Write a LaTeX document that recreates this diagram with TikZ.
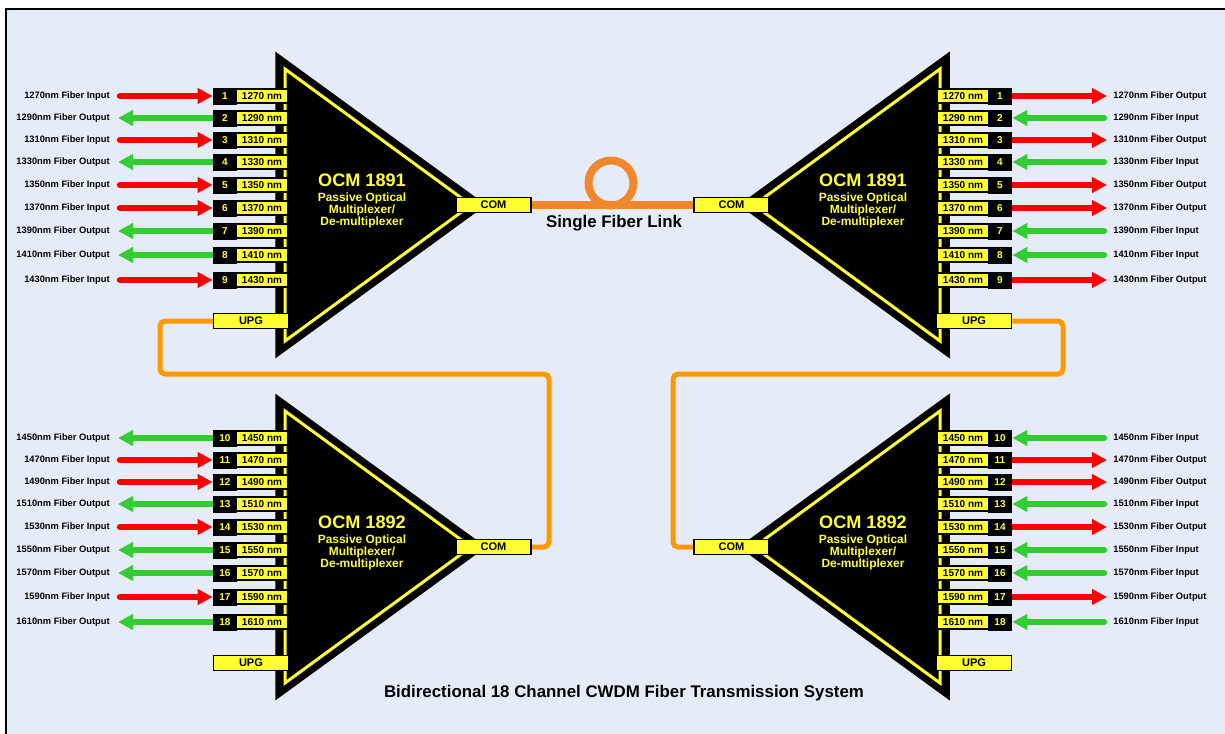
\documentclass[tikz,border=0pt]{standalone}
\usepackage{fontspec}
\setmainfont{Liberation Sans}
\usetikzlibrary{positioning,arrows.meta,calc}
\pgfdeclarelayer{back}
\pgfdeclarelayer{wires}
\pgfsetlayers{back,wires,main}
\definecolor{panelbg}{RGB}{230,236,247}
\definecolor{portyellow}{RGB}{255,255,51}
\definecolor{fiberorange}{RGB}{242,136,46}
\definecolor{upgorange}{RGB}{255,153,0}
\definecolor{inred}{RGB}{255,0,0}
\definecolor{outgreen}{RGB}{51,204,51}
\newcommand{\lblfont}{\fontsize{5.3}{6}\selectfont\bfseries}
\newcommand{\cellfont}{\fontsize{5.7}{6}\selectfont\bfseries}
\newcommand{\boxfont}{\fontsize{6.3}{7}\selectfont\bfseries}
\tikzset{
  numcell/.style={fill=black,text=portyellow,font=\cellfont,minimum width=4.8mm,minimum height=3.4mm,inner sep=0pt},
  wavecell/.style={fill=portyellow,draw=black,line width=0.4mm,font=\cellfont,minimum width=10.4mm,minimum height=2.8mm,inner sep=0pt},
  portbox/.style={fill=portyellow,draw=black,line width=0.3mm,font=\boxfont,minimum width=15mm,minimum height=3mm,inner sep=0pt},
  fiberlbl/.style={font=\lblfont,inner sep=0pt},
  muxtitle/.style={text=portyellow,font=\fontsize{10.3}{11}\selectfont\bfseries,inner sep=0pt},
  muxsub/.style={text=portyellow,font=\fontsize{6.8}{6.9}\selectfont\bfseries,align=center,inner sep=0pt},
  mux/.style={fill=black,draw=black,line width=0.3mm,line join=miter},
  muxrim/.style={draw=portyellow,line width=0.6mm},
  redarrow/.style={draw=inred,line width=1.3mm,line cap=round,-{Triangle[length=3mm,width=3mm]}},
  greenarrow/.style={draw=outgreen,line width=1.3mm,line cap=round,{Triangle[length=3mm,width=3mm]}-},
  left Input/.style={redarrow,shorten <=2mm},
  left Output/.style={greenarrow,shorten <=1.6mm},
  right Output/.style={redarrow,shorten >=1.2mm},
  right Input/.style={greenarrow,shorten >=1.8mm},
  upgwire/.style={draw=upgorange,line width=1mm,rounded corners=1mm},
  fiberwire/.style={draw=fiberorange,line width=1.6mm},
  caption/.style={font=\fontsize{9.6}{10}\selectfont\bfseries,inner sep=0pt},
}
\begin{document}
\begin{tikzpicture}[x=0.2mm,y=-0.2mm]
\useasboundingbox (0,0) rectangle (1225,734);
\clip (0,0) rectangle (1225,734);

\begin{pgfonlayer}{back}
\fill[white] (0,0) rectangle (1225,734);
\draw[fill=panelbg,line width=0.4mm] (6,9) rectangle (1260,760);
\end{pgfonlayer}

% the four OCM bodies
\foreach \dy in {0,342}{
  \filldraw[mux] (276,53+\dy) -- (276,357+\dy) -- (485,205+\dy) -- cycle;
  \draw[muxrim] (285,69+\dy) -- (285,341+\dy) -- (471,205+\dy) -- cycle;
  \filldraw[mux] (949,53+\dy) -- (949,357+\dy) -- (740,205+\dy) -- cycle;
  \draw[muxrim] (940,69+\dy) -- (940,341+\dy) -- (754,205+\dy) -- cycle;
}

\node[muxtitle] (ocmTL) at (362,180) {OCM 1891};
\node[muxsub,below=1.1mm of ocmTL] (subTL) {Passive Optical\\Multiplexer/\\De-multiplexer};
\node[muxtitle] (ocmTR) at (863,180) {OCM 1891};
\node[muxsub,below=1.1mm of ocmTR] (subTR) {Passive Optical\\Multiplexer/\\De-multiplexer};
\node[muxtitle] (ocmBL) at (362,522) {OCM 1892};
\node[muxsub,below=1.1mm of ocmBL] (subBL) {Passive Optical\\Multiplexer/\\De-multiplexer};
\node[muxtitle] (ocmBR) at (863,522) {OCM 1892};
\node[muxsub,below=1.1mm of ocmBR] (subBR) {Passive Optical\\Multiplexer/\\De-multiplexer};

\node[portbox] (comTL) at (493.5,205) {COM};
\node[portbox] (comTR) at (731.5,205) {COM};
\node[portbox] (comBL) at (493.5,547) {COM};
\node[portbox] (comBR) at (731.5,547) {COM};
\node[portbox] (upgTL) at (251,321) {UPG};
\node[portbox] (upgTR) at (974,321) {UPG};
\node[portbox] (upgBL) at (251,663) {UPG};
\node[portbox] (upgBR) at (974,663) {UPG};

% left side channels
\foreach \n/\w/\y/\kind in {1/1270/96/Input,2/1290/118/Output,3/1310/140/Input,
    4/1330/162/Output,5/1350/185/Input,6/1370/208/Input,7/1390/231/Output,
    8/1410/255/Output,9/1430/280/Input,10/1450/438/Output,11/1470/460/Input,
    12/1490/482/Input,13/1510/504/Output,14/1530/527/Input,15/1550/550/Output,
    16/1570/573/Output,17/1590/597/Input,18/1610/622/Output}{
  \node[numcell] (nL\n) at (225,\y) {\n};
  \node[wavecell] (wL\n) at (262,\y) {\w\ nm};
  \node[fiberlbl,anchor=east] (lL\n) at (110,\y) {\w nm Fiber \kind};
  \begin{pgfonlayer}{wires}
  \draw[left \kind] (lL\n.east) -- (nL\n.west);
  \end{pgfonlayer}
}

% right side channels
\foreach \n/\w/\y/\kind in {1/1270/96/Output,2/1290/118/Input,3/1310/140/Output,
    4/1330/162/Input,5/1350/185/Output,6/1370/208/Output,7/1390/231/Input,
    8/1410/255/Input,9/1430/280/Output,10/1450/438/Input,11/1470/460/Output,
    12/1490/482/Output,13/1510/504/Input,14/1530/527/Output,15/1550/550/Input,
    16/1570/573/Input,17/1590/597/Output,18/1610/622/Input}{
  \node[numcell] (nR\n) at (1000,\y) {\n};
  \node[wavecell] (wR\n) at (963,\y) {\w\ nm};
  \node[fiberlbl,anchor=west] (lR\n) at (1113,\y) {\w nm Fiber \kind};
  \begin{pgfonlayer}{wires}
  \draw[right \kind] (nR\n.east) -- (lR\n.west);
  \end{pgfonlayer}
}

\begin{pgfonlayer}{wires}
\draw[fiberwire] (comTL.east) -- (comTR.west);
\draw[fiberwire] (611,183) circle[radius=4.5mm];
\draw[upgwire] (upgTL.west) -| (160,374) -- (549,374) |- (comBL.east);
\draw[upgwire] (upgTR.east) -| (1063,374) -- (673,374) |- (comBR.west);
\end{pgfonlayer}

\node[caption] (link) at (614,223) {Single Fiber Link};
\node[caption] (title) at (624,693) {Bidirectional 18 Channel CWDM Fiber Transmission System};

\end{tikzpicture}
\end{document}
